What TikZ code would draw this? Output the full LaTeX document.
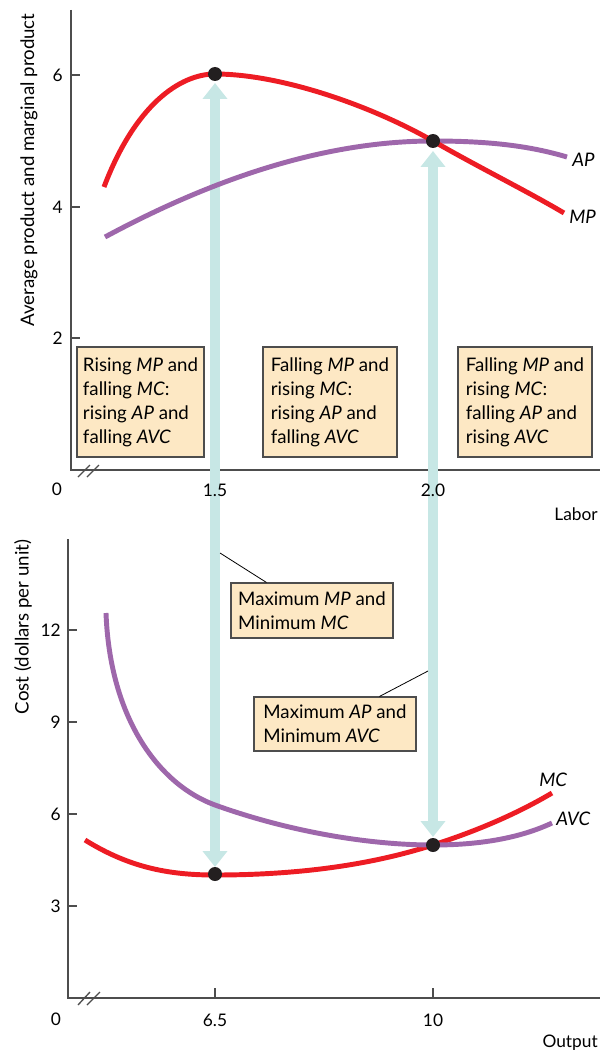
\documentclass[tikz,border=0pt]{standalone}
\usepackage{fontspec}
\setmainfont{Lato}
\usetikzlibrary{arrows.meta,calc}
\definecolor{mpred}{HTML}{ED1C24}
\definecolor{appurple}{HTML}{9E67AB}
\definecolor{bandteal}{HTML}{C7E7E5}
\definecolor{boxfill}{HTML}{FDE8C4}
\definecolor{axisgray}{HTML}{4D4D4D}
\definecolor{dotblack}{HTML}{231F20}
\begin{document}
\begin{tikzpicture}[x=0.75pt,y=-0.75pt,
  axis/.style={draw=axisgray,line width=1.3pt},
  tickline/.style={draw=axisgray,line width=1pt},
  curvered/.style={draw=mpred,line width=3.7pt},
  curvepurple/.style={draw=appurple,line width=3.7pt},
  bandarrow/.style={draw=bandteal,line width=7.5pt,{Triangle[width=18pt,length=12pt]}-{Triangle[width=18pt,length=12pt]}},
  infobox/.style={draw=axisgray,line width=0.8pt,fill=boxfill,align=left,font=\fontsize{14}{18}\selectfont,inner sep=0pt},
  dot/.style={circle,fill=dotblack,minimum size=10.5pt,inner sep=0pt},
  ticklabel/.style={font=\fontsize{13}{15}\selectfont,inner sep=0pt},
  axislabel/.style={font=\fontsize{14}{16}\selectfont,inner sep=0pt,rotate=90},
  curvelabel/.style={font=\fontsize{14}{16}\selectfont\itshape,inner sep=0pt,anchor=west},
  leader/.style={draw=black,line width=0.6pt}
]
\useasboundingbox (0,0) rectangle (607,1052);

% ---------- top chart axes ----------
\coordinate (tO) at (71,470);
\draw[axis] (71,10) -- (tO) -- (600,470);
\foreach \yy/\lab in {75/6,207/4,338/2}{
  \draw[tickline] (71,\yy) -- (80,\yy);
  \node[ticklabel,anchor=east] at (63,\yy) {\lab};
}
\draw[tickline] (78,477) -- (90,465);
\draw[tickline] (87,477) -- (99,465);

% ---------- bottom chart axes ----------
\coordinate (bO) at (68,998);
\draw[axis] (68,539) -- (bO) -- (600,998);
\foreach \yy/\lab in {630/12,722/9,814/6,906/3}{
  \draw[tickline] (68,\yy) -- (77,\yy);
  \node[ticklabel,anchor=east] at (61,\yy) {\lab};
}
\draw[tickline] (215,998) -- (215,988);
\draw[tickline] (433,998) -- (433,988);
\draw[tickline] (78,1005) -- (90,992);
\draw[tickline] (87,1005) -- (100,992);

% ---------- teal double arrows ----------
\coordinate (bt1) at (215,83);
\coordinate (bb1) at (215,867);
\coordinate (bt2) at (433,151);
\coordinate (bb2) at (433,837);
\draw[bandarrow] (bt1) -- (bb1);
\draw[bandarrow] (bt2) -- (bb2);

% ---------- axis texts ----------
\node[ticklabel] (t0) at (57,489) {0};
\node[ticklabel] (t15) at (215,490) {1.5};
\node[ticklabel] (t20) at (433,490) {2.0};
\node[ticklabel,anchor=east] (tlabor) at (598,514) {Labor};
\node[axislabel] (tylab) at (29,170) {Average product and marginal product};
\node[ticklabel] (b0) at (56,1019) {0};
\node[ticklabel] (b65) at (215,1020) {6.5};
\node[ticklabel] (b10) at (433,1020) {10};
\node[ticklabel,anchor=east] (boutput) at (598,1043) {Output};
\node[axislabel] (bylab) at (23,627) {Cost (dollars per unit)};

% ---------- boxes ----------
\node[infobox,minimum width=127*0.75pt,minimum height=110*0.75pt] (box1) at (140.5,402)
  {Rising \textit{MP} and\\falling \textit{MC}:\\rising \textit{AP} and\\falling \textit{AVC}};
\node[infobox,minimum width=134*0.75pt,minimum height=110*0.75pt] (box2) at (330,402)
  {Falling \textit{MP} and\\rising \textit{MC}:\\rising \textit{AP} and\\falling \textit{AVC}};
\node[infobox,minimum width=134*0.75pt,minimum height=110*0.75pt] (box3) at (525,402)
  {Falling \textit{MP} and\\rising \textit{MC}:\\falling \textit{AP} and\\rising \textit{AVC}};
\node[infobox,minimum width=162*0.75pt,minimum height=55*0.75pt] (boxA) at (312,610.5)
  {Maximum \textit{MP} and\\Minimum \textit{MC}};
\node[infobox,minimum width=162*0.75pt,minimum height=54*0.75pt] (boxB) at (335,724)
  {Maximum \textit{AP} and\\Minimum \textit{AVC}};
\coordinate (lA) at (220,553);
\coordinate (lB) at (428,671);
\draw[leader] (lA) -- ($(boxA.north west)+(36,0)$);
\draw[leader] (lB) -- ($(boxB.north west)+(126,0)$);

% ---------- top curves ----------
\draw[curvepurple] (105,237) .. controls (220,175) and (330,141) .. (433,141)
  .. controls (490,141) and (530,146) .. (567,157);
\draw[curvered] (104,187) .. controls (135,105) and (180,74) .. (215,74)
  .. controls (280,74) and (370,105) .. (433,141)
  .. controls (480,168) and (525,190) .. (564,213);
\node[curvelabel] (lap) at (572,160) {AP};
\node[curvelabel] (lmp) at (569,217) {MP};

% ---------- bottom curves ----------
\draw[curvered] (85,840) .. controls (130,868) and (170,875) .. (215,875)
  .. controls (310,875) and (380,862) .. (433,845)
  .. controls (480,830) and (520,812) .. (552,793);
\draw[curvepurple] (106,613) .. controls (110,720) and (160,785) .. (215,805)
  .. controls (290,832) and (370,845) .. (433,845)
  .. controls (480,845) and (520,838) .. (552,823);
\node[curvelabel] (lmc) at (539,780) {MC};
\node[curvelabel] (lavc) at (556,819) {AVC};

% ---------- dots ----------
\node[dot] (p1) at (215,74) {};
\node[dot] (p2) at (433,141) {};
\node[dot] (p3) at (215,874) {};
\node[dot] (p4) at (433,845) {};
\end{tikzpicture}
\end{document}
